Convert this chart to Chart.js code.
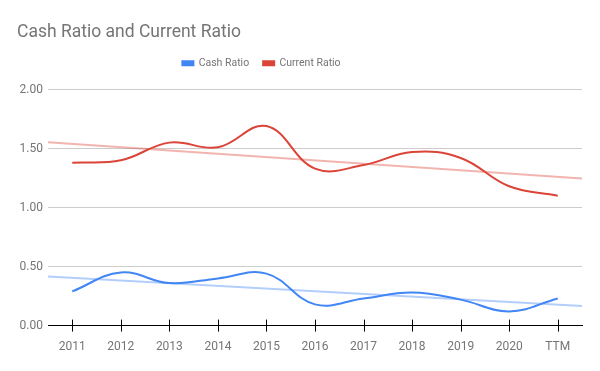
<!DOCTYPE html>
<html><head><meta charset="utf-8">
<script src="https://cdn.jsdelivr.net/npm/chart.js@4/dist/chart.umd.min.js"></script>
<style>html,body{margin:0;padding:0;background:#fff}#wrap{width:600px;height:371px}</style>
</head><body><div id="wrap"><canvas id="c" width="600" height="371"></canvas></div>
<script>
const categories = ['2011','2012','2013','2014','2015','2016','2017','2018','2019','2020','TTM'];
const cashRatio = [0.29, 0.45, 0.36, 0.40, 0.44, 0.18, 0.23, 0.28, 0.22, 0.12, 0.23];
const currentRatio = [1.38, 1.40, 1.55, 1.51, 1.69, 1.33, 1.36, 1.47, 1.42, 1.18, 1.10];
const yTicks = [0, 0.5, 1, 1.5, 2];

function trend(vals){
  const n = vals.length, mx = (n-1)/2;
  const my = vals.reduce((a,b)=>a+b,0)/n;
  let num=0, den=0;
  vals.forEach((v,i)=>{num+=(i-mx)*(v-my); den+=(i-mx)*(i-mx);});
  const s = num/den;
  return [-0.5, n-0.5].map(x=>({x, y: my + s*(x-mx)}));
}
const pts = v => v.map((y,i)=>({x:i,y}));

const tickPlugin = {
  id:'xticks',
  afterLayout(chart){
    const lg = chart.legend;
    lg.top -= 11; lg.bottom -= 11;
    lg.left -= 38; lg.right -= 38;
  },
  afterDatasetsDraw(chart){
    const xs = chart.scales.x, ctx = chart.ctx, y = chart.chartArea.bottom;
    ctx.save(); ctx.strokeStyle='#000'; ctx.lineWidth=1;
    categories.forEach((_,i)=>{
      const x = Math.round(xs.getPixelForValue(i))+0.5;
      ctx.beginPath(); ctx.moveTo(x,y-6); ctx.lineTo(x,y+6); ctx.stroke();
    });
    ctx.restore();
  }
};

new Chart(document.getElementById('c'), {
  type:'line',
  data:{datasets:[
    {label:'Cash Ratio', data:pts(cashRatio), borderColor:'#4285F4', backgroundColor:'#4285F4', borderWidth:2, tension:0.4, pointRadius:0, order:1},
    {label:'Current Ratio', data:pts(currentRatio), borderColor:'#DB4437', backgroundColor:'#DB4437', borderWidth:2, tension:0.4, pointRadius:0, order:1},
    {label:'trendCash', data:trend(cashRatio), borderColor:'rgba(66,133,244,0.4)', borderWidth:2, pointRadius:0, order:2},
    {label:'trendCurrent', data:trend(currentRatio), borderColor:'rgba(219,68,55,0.4)', borderWidth:2, pointRadius:0, order:2}
  ]},
  options:{
    responsive:false, animation:false,
    layout:{padding:{left:17, right:18, top:0, bottom:3}},
    plugins:{
      title:{display:true, text:'Cash Ratio and Current Ratio', align:'start', color:'#757575',
        font:{family:'Roboto', size:17.5, weight:'normal'}, padding:{top:22, bottom:12}},
      legend:{display:true, position:'top', align:'center',
        labels:{filter:(it)=>!it.text.startsWith('trend'), boxWidth:11, boxHeight:4, padding:14, color:'#757575',
          font:{family:'Roboto', size:10.5}}},
      tooltip:{enabled:false}
    },
    scales:{
      x:{type:'linear', min:-0.5, max:categories.length-0.5,
        afterBuildTicks:(s)=>{s.ticks = categories.map((_,i)=>({value:i}));},
        grid:{display:false, drawTicks:false},
        border:{display:true, color:'#000', width:1},
        ticks:{callback:(v)=>categories[v], color:'#757575', padding:14, autoSkip:false, maxRotation:0,
          font:{family:'Roboto', size:12}}},
      y:{min:0, max:2,
        afterBuildTicks:(s)=>{s.ticks = yTicks.map(v=>({value:v}));},
        afterFit:(s)=>{s.width = 31;},
        grid:{color:(c)=>c.tick && c.tick.value===0 ? 'rgba(0,0,0,0)' : '#cccccc', drawTicks:false},
        border:{display:false},
        ticks:{callback:(v)=>Number(v).toFixed(2), color:'#757575', padding:5, font:{family:'Roboto', size:12}}}
    }
  },
  plugins:[tickPlugin]
});
</script></body></html>
